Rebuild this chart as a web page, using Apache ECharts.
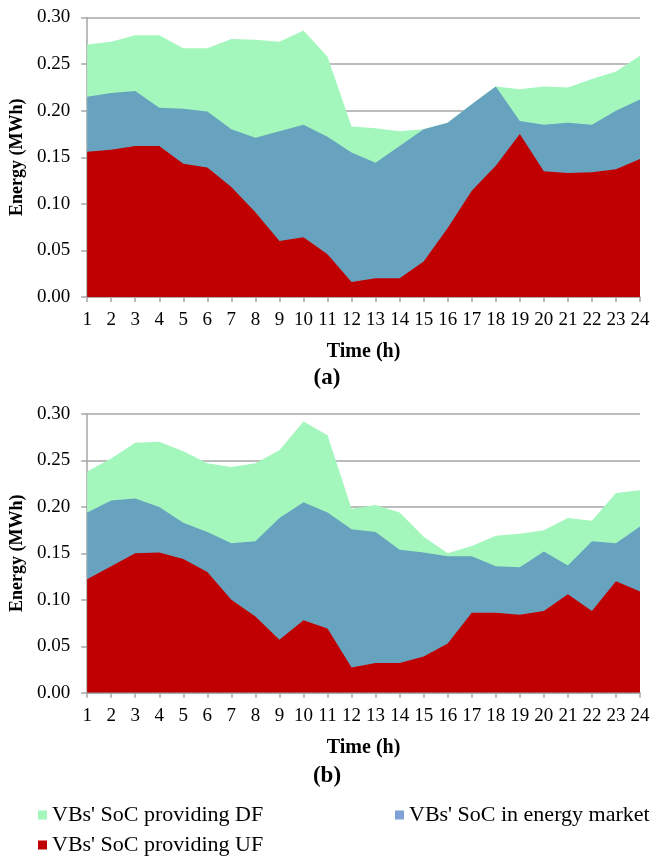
<!DOCTYPE html>
<html>
<head>
<meta charset="utf-8">
<script src="https://cdn.jsdelivr.net/npm/echarts@6/dist/echarts.min.js"></script>
<style>
  html, body { margin: 0; padding: 0; background: #fff; }
  #chart { width: 654px; height: 859px; }
</style>
</head>
<body>
<div id="chart"></div>
<script>
// ---- data ----
const hours = ['1','2','3','4','5','6','7','8','9','10','11','12','13','14','15','16','17','18','19','20','21','22','23','24'];
const seriesNames = ["VBs' SoC providing DF", "VBs' SoC in energy market", "VBs' SoC providing UF"];
const yTicks = [0, 0.05, 0.10, 0.15, 0.20, 0.25, 0.30];

// (a)
const dfA     = [0.271,0.274,0.281,0.281,0.267,0.267,0.277,0.276,0.274,0.286,0.258,0.183,0.181,0.178,0.180,0.187,0.207,0.226,0.223,0.226,0.225,0.234,0.242,0.259];
const marketA = [0.215,0.219,0.221,0.203,0.202,0.199,0.180,0.171,0.178,0.185,0.172,0.155,0.144,0.162,0.180,0.187,0.207,0.226,0.189,0.185,0.187,0.185,0.200,0.212];
const ufA     = [0.156,0.158,0.162,0.162,0.143,0.139,0.118,0.091,0.060,0.064,0.046,0.016,0.020,0.020,0.038,0.074,0.114,0.141,0.175,0.135,0.133,0.134,0.137,0.148];

// (b)
const dfB     = [0.238,0.252,0.269,0.270,0.260,0.247,0.243,0.247,0.261,0.292,0.277,0.198,0.202,0.194,0.168,0.150,0.158,0.169,0.171,0.175,0.188,0.185,0.215,0.218];
const marketB = [0.194,0.207,0.209,0.200,0.183,0.173,0.161,0.163,0.188,0.205,0.194,0.176,0.173,0.154,0.151,0.147,0.147,0.136,0.135,0.152,0.137,0.163,0.161,0.179];
const ufB     = [0.122,0.136,0.150,0.151,0.144,0.130,0.100,0.082,0.057,0.078,0.069,0.027,0.032,0.032,0.039,0.053,0.086,0.086,0.084,0.088,0.106,0.088,0.120,0.109];

const panelLabels = ['(a)', '(b)'];
const xName = 'Time (h)';
const yName = 'Energy (MWh)';

// ---- styles ----
const FONT = '"Liberation Serif", "Times New Roman", serif';
const GRAY = '#a6a6a6';
const areaColors = ['#a3f7bc', '#67a2bf', '#c00000'];
const legendColors = ['#a3f7bc', '#7fa1d6', '#c00000'];

const grids = [
  { left: 87, right: 14, top: 17.5, height: 279.5 },
  { left: 87, right: 14, top: 414, height: 278.7 }
];

function xAxis(i) {
  return {
    type: 'category', gridIndex: i, data: hours, boundaryGap: false,
    axisLine: { show: true, lineStyle: { color: GRAY, width: 1.5 } },
    axisTick: { show: true, length: 5, alignWithLabel: true, lineStyle: { color: GRAY, width: 1.5 } },
    axisLabel: { color: '#000', fontFamily: FONT, fontSize: 19, margin: 14, interval: 0 },
    name: xName, nameLocation: 'middle', nameGap: 45,
    nameTextStyle: { color: '#000', fontFamily: FONT, fontSize: 20, fontWeight: 'bold' },
    splitLine: { show: false }
  };
}
function yAxis(i) {
  return {
    type: 'value', gridIndex: i, min: yTicks[0], max: yTicks[yTicks.length - 1], interval: 0.05,
    axisLine: { show: true, lineStyle: { color: GRAY, width: 1.5 } },
    axisTick: { show: true, length: 6, lineStyle: { color: GRAY, width: 1.5 } },
    axisLabel: { color: '#000', fontFamily: FONT, fontSize: 19, margin: 17, formatter: v => v.toFixed(2) },
    splitLine: { show: true, lineStyle: { color: GRAY, width: 1.5 } },
    name: yName, nameLocation: 'middle', nameGap: 59,
    nameTextStyle: { color: '#000', fontFamily: FONT, fontSize: 18, fontWeight: 'bold' }
  };
}
function area(name, data, idx, g) {
  return {
    name: name, type: 'line', xAxisIndex: g, yAxisIndex: g, data: data,
    symbol: 'none', showSymbol: false,
    lineStyle: { width: 0 },
    itemStyle: { color: legendColors[idx] },
    areaStyle: { color: areaColors[idx], opacity: 1 },
    emphasis: { disabled: true },
    z: 2 + idx
  };
}

const legendText = { color: '#000', fontFamily: FONT, fontSize: 22 };
const legendBase = { orient: 'horizontal', itemWidth: 9, itemHeight: 9, itemGap: 10, icon: 'rect', textStyle: legendText, padding: 0 };

const option = {
  animation: false,
  backgroundColor: '#fff',
  grid: grids,
  xAxis: [xAxis(0), xAxis(1)],
  yAxis: [yAxis(0), yAxis(1)],
  title: [
    { text: panelLabels[0], left: 'center', top: 362, textStyle: { fontFamily: FONT, fontSize: 23, fontWeight: 'bold', color: '#000' } },
    { text: panelLabels[1], left: 'center', top: 760, textStyle: { fontFamily: FONT, fontSize: 23, fontWeight: 'bold', color: '#000' } }
  ],
  legend: [
    Object.assign({}, legendBase, { data: [seriesNames[0]], left: 38, top: 804 }),
    Object.assign({}, legendBase, { data: [seriesNames[1]], left: 395, top: 804 }),
    Object.assign({}, legendBase, { data: [seriesNames[2]], left: 38, top: 834 })
  ],
  series: [
    area(seriesNames[0], dfA, 0, 0),
    area(seriesNames[1], marketA, 1, 0),
    area(seriesNames[2], ufA, 2, 0),
    area(seriesNames[0], dfB, 0, 1),
    area(seriesNames[1], marketB, 1, 1),
    area(seriesNames[2], ufB, 2, 1)
  ]
};

const chart = echarts.init(document.getElementById('chart'), null, { renderer: 'canvas' });
chart.setOption(option);
</script>
</body>
</html>
